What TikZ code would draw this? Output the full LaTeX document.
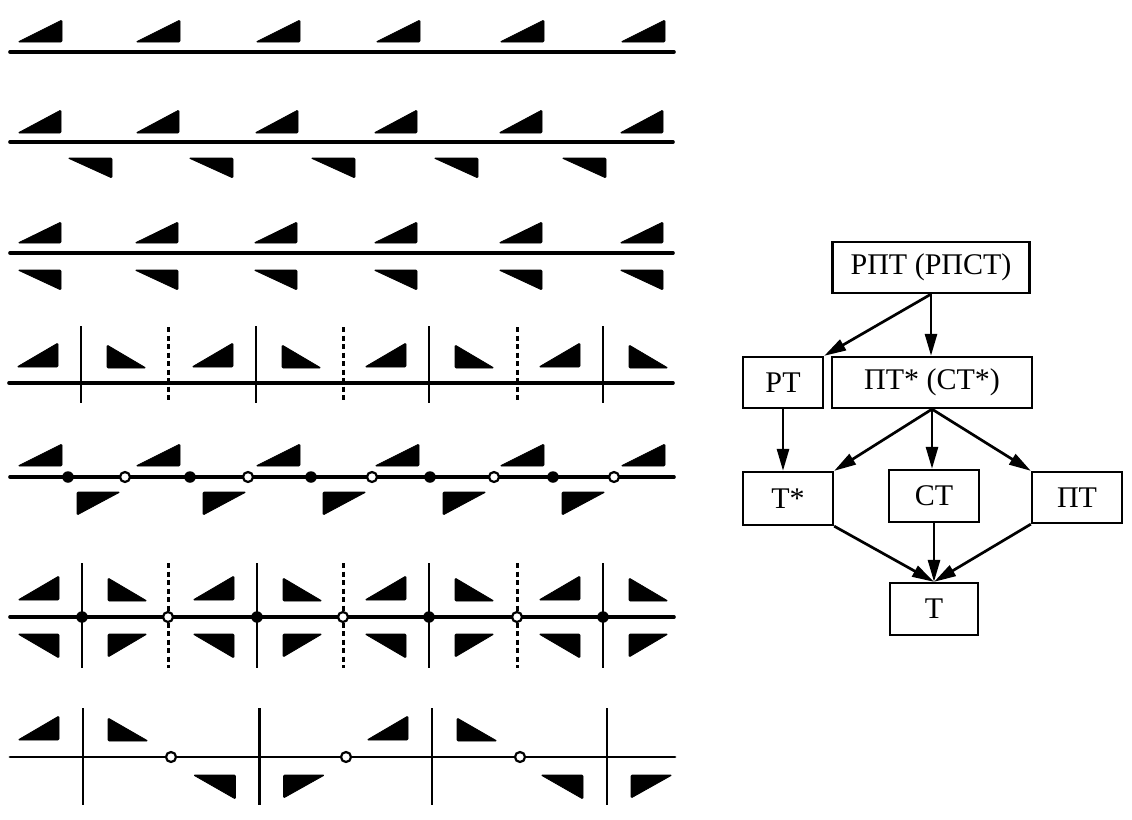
\documentclass[tikz,border=0pt]{standalone}
\usepackage{fontspec}
\setmainfont{Liberation Serif}
\usetikzlibrary{arrows.meta}
\tikzset{
  tri/.style={fill=black,draw=black,line width=0.8pt,rounded corners=1.2pt},
  mainline/.style={line width=3.6pt,line cap=round},
  thinline/.style={line width=2.8pt,line cap=round},
  sepline/.style={line width=2.6pt},
  dashsep/.style={line width=3pt,dash pattern=on 5pt off 3.5pt},
  fdot/.style={circle,fill=black,inner sep=0pt,minimum size=11.5pt},
  odot/.style={circle,draw=black,fill=white,line width=2.2pt,inner sep=0pt,minimum size=10pt},
  box/.style={draw,line width=2.3pt,inner sep=0pt,font=\fontsize{30}{35}\selectfont},
  arr/.style={line width=2.7pt,-{Triangle[length=22pt,width=12pt]}}
}
% xl, xr, ytop, ybottom
\newcommand\TriA[4]{\filldraw[tri] (#1,#4) -- (#2,#4) -- (#2,#3) -- cycle;}
\newcommand\TriB[4]{\filldraw[tri] (#1,#3) -- (#1,#4) -- (#2,#4) -- cycle;}
\newcommand\TriAm[4]{\filldraw[tri] (#1,#3) -- (#2,#3) -- (#2,#4) -- cycle;}
\newcommand\TriBm[4]{\filldraw[tri] (#1,#3) -- (#2,#3) -- (#1,#4) -- cycle;}
\begin{document}
\begin{tikzpicture}[x=1pt,y=-1pt]
\useasboundingbox (0,0) rectangle (1132,819);

% ---------- Row 1 ----------
\draw[mainline] (10,52) -- (674,52);
\foreach \r in {62,180,300,420,544,665} {\TriA{\r-44}{\r}{20}{42}}

% ---------- Row 2 ----------
\draw[mainline] (10,142) -- (673,142);
\foreach \r in {61,179,298,417,542,663} {\TriA{\r-43}{\r}{110}{133}}
\foreach \r in {112,233,355,478,606} {\TriAm{\r-44}{\r}{158}{178}}

% ---------- Row 3 ----------
\draw[mainline] (10,253) -- (673,253);
\foreach \r in {61,178,297,417,542,663} {\TriA{\r-43}{\r}{222}{243}}
\foreach \r in {61,178,297,417,542,663} {\TriAm{\r-43}{\r}{270}{290}}

% ---------- Row 4 ----------
\draw[mainline] (9,383) -- (673,383);
\foreach \s in {81,256,429,603} {
  \draw[sepline] (\s,326) -- (\s,403);
  \TriA{\s-64}{\s-23}{343}{367}
  \TriB{\s+26}{\s+65}{345}{368}
}
\foreach \s in {168,343,517} {\draw[dashsep] (\s,327) -- (\s,403);}

% ---------- Row 5 ----------
\draw[mainline] (10,477) -- (674,477);
\foreach \r in {62,180,300,419,544,665} {\TriA{\r-44}{\r}{444}{466}}
\foreach \l in {77,203,323,443,562} {\TriBm{\l}{\l+43}{492}{515}}
\foreach \x in {68,190,311,430,553} {\node[fdot] at (\x,477) {};}
\foreach \x in {125,248,372,494,614} {\node[odot] at (\x,477) {};}

% ---------- Row 6 ----------
\draw[mainline] (10,617) -- (674,617);
\foreach \s in {82,257,429,603} {
  \draw[sepline] (\s,563) -- (\s,668);
  \TriA{\s-64}{\s-23}{576}{600}
  \TriB{\s+26}{\s+65}{578}{601}
  \TriAm{\s-64}{\s-23}{634}{658}
  \TriBm{\s+26}{\s+65}{634}{657}
  \node[fdot] at (\s,617) {};
}
\foreach \s in {168,343,517} {
  \draw[dashsep] (\s,563) -- (\s,668);
  \node[odot] at (\s,617) {};
}

% ---------- Row 7 ----------
\draw[thinline] (10,757) -- (675,757);
\foreach \s in {83,259.5,432,607} {\draw[sepline] (\s,708) -- (\s,805);}
\foreach \s in {83,432} {
  \TriA{\s-65}{\s-24}{716}{740}
  \TriB{\s+25}{\s+65}{718}{741}
}
\foreach \s in {259.5,607} {
  \TriAm{\s-66}{\s-24}{775}{799}
  \TriBm{\s+24}{\s+65}{775}{798}
}
\foreach \x in {171,346,520} {\node[odot] at (\x,757) {};}

% ---------- Right diagram ----------
\node[box,minimum width=197pt,minimum height=51pt] (rpt) at (931,267.5) {РПТ (РПСТ)};
\node[box,minimum width=80pt,minimum height=51pt] (rt) at (783,382.5) {РТ};
\node[box,minimum width=200pt,minimum height=51pt] (ptc) at (932,382.5) {ПТ* (СТ*)};
\node[box,minimum width=90pt,minimum height=53pt] (ts) at (788,498.5) {Т*};
\node[box,minimum width=90pt,minimum height=52pt] (ct) at (934,496) {СТ};
\node[box,minimum width=90pt,minimum height=51pt] (pt) at (1077,497.5) {ПТ};
\node[box,minimum width=88pt,minimum height=52pt] (t) at (934,609) {Т};

\coordinate (rptb) at (rpt.south);
\coordinate (ptcb) at (ptc.south);
\draw[arr] (rptb) -- (rt.north east);
\draw[arr] (rptb) -- (rptb |- ptc.north);
\draw[arr] (rt.south) -- (rt.south |- ts.north);
\draw[arr] (ptcb) -- (ts.north east);
\draw[arr] (ptcb) -- (ptcb |- ct.north);
\draw[arr] (ptcb) -- (pt.north west);
\draw[arr] (ts.south east) -- (t.north);
\draw[arr] (ct.south) -- (t.north);
\draw[arr] (pt.south west) -- (t.north);
\end{tikzpicture}
\end{document}
